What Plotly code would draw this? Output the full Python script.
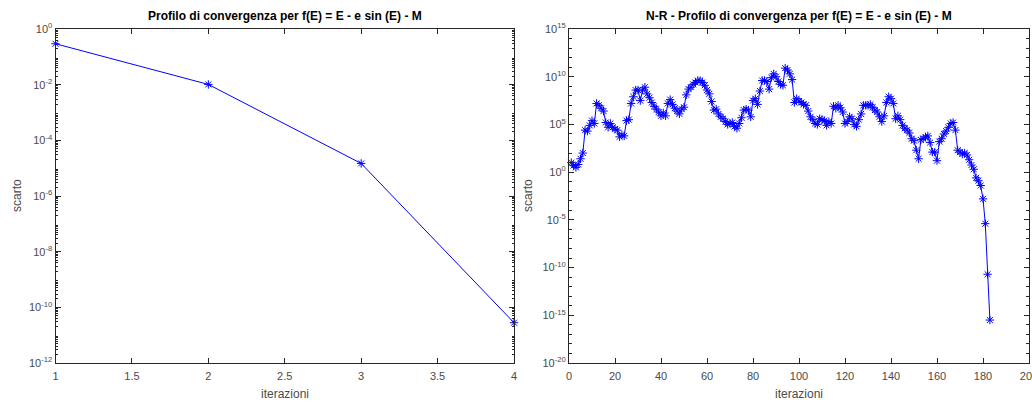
import plotly.graph_objects as go

# Left panel: convergence of the first method (4 iterations)
iter_left = [1, 2, 3, 4]
scarto_left = [2.95e-1, 1.02e-2, 1.48e-5, 2.8e-11]

# Right panel: Newton-Raphson residual, stored as log10 exponents per iteration
log10_scarto_nr = [
    1.0, 0.7, 0.5, 0.8, 1.4, 2.0, 4.4, 4.3, 4.9, 5.4,
    5.1, 7.2, 7.0, 6.7, 6.4, 5.2, 4.7, 5.1, 4.7, 4.5,
    4.4, 3.7, 3.9, 3.8, 5.4, 5.5, 7.2, 7.9, 8.6, 8.6,
    7.5, 8.6, 8.9, 8.2, 7.8, 7.3, 6.9, 6.6, 6.3, 5.9,
    6.2, 5.9, 7.2, 7.6, 7.1, 6.7, 6.4, 6.1, 6.6, 6.8,
    8.1, 8.7, 8.9, 9.2, 9.4, 9.6, 9.6, 9.4, 9.1, 8.6,
    8.2, 7.4, 6.5, 6.6, 6.1, 5.8, 5.6, 5.3, 5.0, 5.1,
    5.2, 4.8, 4.6, 5.1, 5.7, 6.5, 6.6, 6.5, 5.8, 7.5,
    7.7, 7.1, 8.5, 9.6, 9.6, 9.5, 8.7, 9.9, 10.3, 10.0,
    9.5, 9.2, 9.1, 10.9, 10.7, 10.3, 9.7, 7.3, 7.7, 7.45,
    7.3, 7.1, 7.0, 6.4, 5.8, 5.5, 5.1, 5.0, 5.6, 5.5,
    5.4, 4.9, 5.3, 5.1, 6.9, 6.7, 7.0, 6.75, 6.3, 5.1,
    5.3, 5.8, 5.6, 5.0, 4.8, 5.5, 6.1, 7.0, 7.0, 7.0,
    7.1, 6.8, 6.5, 6.3, 5.8, 5.3, 5.9, 7.3, 7.9, 7.7,
    7.2, 5.6, 5.9, 5.5, 4.9, 4.6, 4.4, 4.1, 3.5, 3.3,
    2.3, 1.4, 3.4, 3.5, 3.7, 3.8, 3.1, 2.1, 2.1, 1.2,
    3.2, 3.5, 4.0, 4.3, 4.7, 5.1, 5.2, 4.4, 2.3, 2.1,
    1.9, 2.0, 1.8, 1.3, 0.75, 0.3, -0.6, -0.9, -1.4, -2.8,
    -5.4, -10.7, -15.5,
]
iter_nr = list(range(1, len(log10_scarto_nr) + 1))
scarto_nr = [10 ** v for v in log10_scarto_nr]

# Axis tick definitions
left_xticks = [1, 1.5, 2, 2.5, 3, 3.5, 4]
left_ydecades = list(range(-12, 1, 2))
right_xticks = list(range(0, 201, 20))
right_ydecades = list(range(-20, 16, 5))

W, H = 1032, 403
AX_COLOR = "#262626"
LABEL_COLOR = "#4a4a4a"
FONT = "Liberation Sans, Arial, sans-serif"
BLUE = "#0000ff"


def px_x(p):
    return p / W


def px_y(p):
    return 1 - p / H


def pow_text(e):
    return "10<sup>%d</sup>" % e


fig = go.Figure()

marker = dict(symbol="asterisk", size=7, color=BLUE, line=dict(color=BLUE, width=1))
fig.add_trace(go.Scatter(x=iter_left, y=scarto_left, mode="lines+markers",
                         line=dict(color=BLUE, width=1), marker=marker,
                         cliponaxis=False, xaxis="x", yaxis="y"))
fig.add_trace(go.Scatter(x=iter_nr, y=scarto_nr, mode="lines+markers",
                         line=dict(color=BLUE, width=1), marker=marker,
                         cliponaxis=False, xaxis="x2", yaxis="y2"))

common_axis = dict(
    showline=True, mirror="ticks", linecolor=AX_COLOR, linewidth=1,
    ticks="inside", ticklen=5, tickcolor=AX_COLOR, tickwidth=1,
    showgrid=False, zeroline=False, automargin=False,
    ticklabeloverflow="allow",
    tickfont=dict(family=FONT, size=11, color=LABEL_COLOR),
)

left_minor = [m * 10 ** d for d in range(-12, 0) for m in range(2, 10)]
right_minor = [10.0 ** d for d in range(-20, 16) if d % 5 != 0]

y_dom = [px_y(363), px_y(29)]

fig.update_layout(
    width=W, height=H,
    margin=dict(l=0, r=0, t=0, b=0),
    paper_bgcolor="white", plot_bgcolor="white",
    showlegend=False,
    xaxis=dict(common_axis, domain=[px_x(55.5), px_x(514)], range=[1, 4],
               tickmode="array", tickvals=left_xticks, ticklabelstandoff=3,
               ticktext=[("%g" % v) for v in left_xticks], anchor="y"),
    yaxis=dict(common_axis, domain=y_dom, type="log", range=[-12, 0],
               tickmode="array", tickvals=[10.0 ** d for d in left_ydecades],
               ticktext=[pow_text(d) for d in left_ydecades], anchor="x",
               minor=dict(ticks="inside", ticklen=2, tickcolor=AX_COLOR,
                          tickmode="array", tickvals=left_minor, showgrid=False)),
    xaxis2=dict(common_axis, domain=[px_x(569), px_x(1029)], range=[0, 200],
                tickmode="array", tickvals=right_xticks, ticklabelstandoff=3,
                ticktext=[str(v) for v in right_xticks], anchor="y2"),
    yaxis2=dict(common_axis, domain=y_dom, type="log", range=[-20, 15],
                tickmode="array", tickvals=[10.0 ** d for d in right_ydecades],
                ticktext=[pow_text(d) for d in right_ydecades], anchor="x2",
                minor=dict(ticks="inside", ticklen=3, tickcolor=AX_COLOR,
                           tickmode="array", tickvals=right_minor, showgrid=False)),
)

title_font = dict(family=FONT, size=12, color="#000000")
label_font = dict(family=FONT, size=12, color=LABEL_COLOR)
annotations = [
    dict(text="<b>Profilo di convergenza per f(E) = E - e sin (E) - M</b>",
         x=px_x(285), y=px_y(16), font=title_font),
    dict(text="<b>N-R - Profilo di convergenza per f(E) = E - e sin (E) - M</b>",
         x=px_x(799), y=px_y(16), font=title_font),
    dict(text="iterazioni", x=px_x(285), y=px_y(394), font=label_font),
    dict(text="iterazioni", x=px_x(799), y=px_y(394), font=label_font),
    dict(text="scarto", x=px_x(17), y=px_y(196), font=label_font, textangle=-90),
    dict(text="scarto", x=px_x(528), y=px_y(196), font=label_font, textangle=-90),
]
for a in annotations:
    a.update(xref="paper", yref="paper", showarrow=False,
             xanchor="center", yanchor="middle")
fig.update_layout(annotations=annotations)

fig.write_html("out.html")
